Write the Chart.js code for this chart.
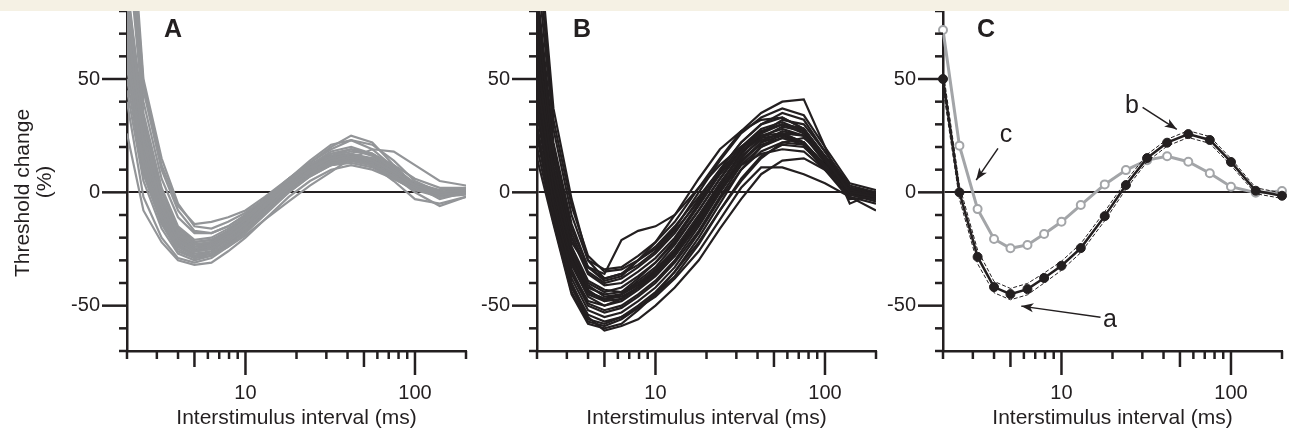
<!DOCTYPE html>
<html>
<head>
<meta charset="utf-8">
<script src="https://cdn.jsdelivr.net/npm/chart.js@4.4.1/dist/chart.umd.min.js"></script>
<style>
  html, body { margin: 0; padding: 0; background: #fff; }
  #page { position: relative; width: 1289px; height: 431px; overflow: hidden; background: #fff; }
  #strip { position: absolute; left: 0; top: 0; width: 1289px; height: 11px; background: #f5f1e4; z-index: 2; }
  canvas { position: absolute; top: 0; }
</style>
</head>
<body>
<div id="page">
  <div id="strip"></div>
  <canvas id="chartA" width="476" height="431" style="left:0px"></canvas>
  <canvas id="chartB" width="410" height="431" style="left:476px"></canvas>
  <canvas id="chartC" width="403" height="431" style="left:886px"></canvas>
</div>
<script>
// interstimulus intervals (ms) of the recovery cycle
const delays = [2, 2.5, 3.2, 4, 5, 6.3, 7.9, 10, 13, 18, 24, 32, 42, 56, 75, 100, 140, 200];

const xTickValues = [2, 3, 4, 5, 6, 7, 8, 9, 10, 20, 30, 40, 50, 60, 70, 80, 90, 100, 200];
const xLabelled = [10, 100];
const yTickValues = [-70, -60, -50, -40, -30, -20, -10, 0, 10, 20, 30, 40, 50, 60, 70, 80];
const yLabelled = [-50, 0, 50];

// panel A: individual recordings (grey)
const groupA = [
  [112, 35, 2, -15, -21, -20, -16, -11, -4, 5, 11, 15, 17, 14, 9, 3, 0, 1],
  [60, 12, -12, -24, -28, -27, -22, -16, -8, 2, 9, 14, 16, 14, 9, 3, -1, 0],
  [150, 50, 15, -5, -15, -16, -13, -9, -3, 5, 12, 18, 20, 17, 10, 3, -1, 1],
  [40, -2, -20, -29, -31, -29, -24, -18, -10, 0, 7, 12, 14, 12, 7, 2, -1, 0],
  [75, 22, -6, -21, -26, -25, -20, -14, -6, 3, 10, 15, 17, 15, 9, 3, 0, 1],
  [85, 28, -2, -18, -23, -22, -18, -12, -5, 4, 10, 14, 15, 12, 7, 2, -1, 0],
  [26, -8, -22, -30, -32, -31, -26, -20, -12, -2, 5, 10, 12, 10, 6, 1, -2, -1],
  [130, 45, 10, -8, -17, -18, -15, -10, -3, 6, 13, 19, 23, 21, 14, 5, 0, 2],
  [65, 15, -10, -23, -27, -26, -21, -15, -7, 2, 9, 13, 14, 12, 7, 2, -1, 0],
  [80, 25, -4, -19, -24, -22, -17, -12, -5, 4, 11, 16, 18, 17, 12, 6, 2, 2],
  [55, 10, -13, -25, -29, -27, -22, -16, -9, 0, 7, 12, 15, 14, 10, 4, 0, 1],
  [90, 32, 0, -16, -22, -21, -17, -12, -5, 4, 10, 14, 16, 13, 8, 2, -1, 0],
  [70, 18, -8, -22, -26, -25, -21, -15, -8, 2, 10, 16, 19, 17, 11, 3, -2, 0],
  [45, 5, -16, -27, -30, -28, -23, -17, -9, 1, 8, 13, 15, 13, 8, 2, -1, 0],
  [140, 48, 12, -6, -14, -13, -11, -8, -2, 6, 13, 20, 25, 22, 12, 3, -3, 0],
  [78, 24, -5, -20, -25, -24, -19, -13, -6, 3, 9, 13, 15, 13, 8, 2, 0, 1],
  [62, 14, -11, -23, -28, -26, -20, -13, -5, 5, 12, 17, 19, 17, 11, 4, 0, 1],
  [88, 30, 1, -17, -23, -23, -19, -14, -7, 2, 8, 12, 13, 11, 6, 1, -1, 0],
  [72, 20, -7, -21, -25, -23, -18, -12, -4, 5, 11, 15, 16, 14, 9, 3, 0, 1],
  [50, 8, -14, -26, -29, -28, -24, -19, -12, -4, 3, 9, 15, 19, 18, 12, 5, 3],
  [68, 17, -9, -22, -26, -24, -19, -13, -5, 4, 10, 14, 15, 12, 5, -3, -5, -2],
  [82, 26, -3, -19, -24, -23, -18, -12, -4, 5, 11, 15, 16, 13, 7, 0, -6, -2],
  [58, 11, -12, -24, -28, -27, -23, -17, -9, 1, 8, 13, 16, 15, 10, 4, 1, 2],
  [120, 40, 6, -11, -18, -18, -15, -10, -3, 6, 12, 16, 17, 14, 8, 2, -1, 0],
  [76, 22, -6, -20, -25, -24, -19, -13, -5, 5, 12, 17, 19, 16, 10, 3, 0, 1],
  [66, 16, -9, -22, -26, -25, -21, -15, -7, 3, 9, 14, 15, 13, 7, 2, -1, 0],
  [84, 27, -2, -18, -23, -22, -17, -11, -4, 6, 14, 21, 23, 19, 11, 3, -1, 1],
  [92, 33, 1, -16, -22, -21, -17, -12, -5, 3, 9, 13, 14, 12, 7, 2, 0, 1]
];

// panel B: individual recordings (black)
const groupB = [
  [120, 37, -3, -30, -38, -36, -30, -24, -15, -2, 10, 22, 30, 33, 28, 15, 0, -2],
  [15, -14, -45, -58, -60, -58, -52, -45, -35, -20, -5, 10, 20, 26, 25, 15, 1, -2],
  [40, -5, -35, -48, -50, -47, -42, -36, -28, -14, 0, 13, 22, 27, 25, 14, 0, -2],
  [60, 8, -25, -40, -44, -42, -37, -31, -22, -8, 6, 18, 26, 30, 28, 16, 1, -1],
  [30, -10, -40, -55, -61, -59, -56, -50, -42, -30, -16, -3, 8, 14, 15, 10, 0, -2],
  [80, 18, -18, -35, -40, -38, -33, -27, -18, -3, 10, 22, 30, 35, 32, 18, 2, -1],
  [50, 2, -30, -45, -48, -45, -40, -34, -25, -10, 4, 16, 23, 26, 22, 11, -1, -3],
  [25, -12, -42, -56, -58, -55, -50, -44, -35, -22, -8, 5, 15, 22, 24, 16, 2, -1],
  [70, 12, -22, -33, -36, -21, -17, -15, -10, 2, 12, 20, 25, 26, 22, 12, 0, -2],
  [45, -2, -32, -46, -50, -48, -43, -37, -28, -13, 2, 15, 24, 29, 27, 15, 1, -1],
  [100, 28, -10, -30, -34, -33, -28, -22, -13, 2, 15, 27, 35, 40, 41, 20, -5, 0],
  [35, -8, -38, -52, -55, -53, -48, -42, -33, -18, -3, 10, 18, 22, 21, 12, 0, -3],
  [55, 5, -27, -42, -45, -44, -38, -31, -21, -6, 8, 20, 28, 31, 27, 14, 1, -2],
  [65, 10, -24, -39, -43, -44, -40, -35, -27, -13, 1, 12, 17, 19, 18, 10, -1, -4],
  [20, -13, -44, -57, -59, -56, -51, -46, -38, -26, -12, 2, 11, 11, 8, 4, -2, -8],
  [90, 22, -14, -33, -38, -36, -32, -26, -17, -4, 8, 18, 24, 25, 22, 12, 0, -1],
  [45, 0, -31, -44, -47, -46, -42, -36, -27, -12, 3, 17, 26, 32, 30, 18, 3, 0],
  [75, 15, -20, -36, -41, -40, -35, -29, -20, -5, 9, 20, 27, 30, 26, 14, 0, -2],
  [38, -6, -36, -50, -53, -51, -46, -40, -31, -17, -2, 12, 20, 24, 22, 12, -1, -3],
  [58, 6, -26, -41, -46, -45, -41, -35, -26, -11, 4, 17, 25, 28, 25, 13, 0, -2],
  [110, 32, -6, -28, -35, -34, -30, -25, -16, 0, 14, 26, 33, 37, 34, 20, 4, 1],
  [28, -11, -41, -54, -57, -55, -51, -45, -37, -23, -8, 6, 16, 21, 20, 11, -2, -5],
  [48, 1, -29, -43, -48, -47, -42, -36, -27, -12, 2, 14, 21, 24, 21, 10, -3, -2],
  [85, 20, -16, -33, -39, -37, -30, -22, -10, 6, 19, 27, 32, 33, 28, 15, 2, 0],
  [42, -4, -34, -49, -52, -50, -45, -39, -30, -15, 0, 14, 22, 25, 22, 12, 0, -2],
  [52, 3, -28, -44, -47, -45, -39, -33, -23, -8, 6, 19, 27, 30, 28, 16, 2, -1]
];

// panel C: group means (black = B, grey = A), dashed = mean +/- SEM of B
const meanB = [50, 0, -28.5, -41.8, -44.9, -42.7, -37.8, -32.4, -24.6, -10.5, 3.2, 15.1, 21.9, 25.7, 23.1, 13.4, 0.7, -1.5];
const meanBUpper = [54, 3, -25.5, -39.3, -42.4, -40.2, -35.6, -30.4, -22.6, -8.5, 5, 16.7, 23.4, 27.2, 24.6, 14.9, 2, -0.3];
const meanBLower = [46, -3, -31.5, -44.3, -47.4, -45.2, -40, -34.4, -26.6, -12.5, 1.4, 13.5, 20.4, 24.2, 21.6, 11.9, -0.6, -2.7];
const meanA = [71.6, 20.6, -7.4, -20.6, -24.7, -23.2, -18.4, -13, -5.6, 3.5, 9.8, 14.2, 15.9, 13.5, 8.4, 2.5, -0.2, 0.6];

// arrows in panel C, in data units (ms, %)
const noteText = ['a', 'b', 'c'];
const noteAt = [[17.6, -59.4], [23.7, 34.8], [4.32, 22.3]];
const arrowFrom = [[17.0, -55.1], [30.1, 37.5], [4.22, 19.4]];
const arrowTo = [[5.79, -50.2], [47.9, 27.8], [3.14, 5.4]];

const ink = '#231f20';
const greyA = '#939598';
const greyC = '#a3a5a8';
const fontFamily = '"Liberation Sans", Arial, Helvetica, sans-serif';

Chart.defaults.font.family = fontFamily;
Chart.defaults.color = ink;

function toPoints(vals) {
    return vals.map((v, i) => ({ x: delays[i], y: v }));
}

function noPadding(s) {
    s.paddingTop = 0;
    s.paddingBottom = 0;
    s.paddingLeft = 0;
    s.paddingRight = 0;
}

function drawArrow(ctx, x0, y0, x1, y1) {
    ctx.beginPath();
    ctx.moveTo(x0, y0);
    ctx.lineTo(x1, y1);
    ctx.stroke();
    const ang = Math.atan2(y1 - y0, x1 - x0);
    const len = 13, spread = 0.36, notch = 9;
    ctx.beginPath();
    ctx.moveTo(x1, y1);
    ctx.lineTo(x1 - len * Math.cos(ang - spread), y1 - len * Math.sin(ang - spread));
    ctx.lineTo(x1 - notch * Math.cos(ang), y1 - notch * Math.sin(ang));
    ctx.lineTo(x1 - len * Math.cos(ang + spread), y1 - len * Math.sin(ang + spread));
    ctx.closePath();
    ctx.fill();
}

// tick marks, panel letter, y title and arrows
const panelDecor = {
    id: 'panelDecor',
    afterDraw(chart, args, opts) {
        const { ctx, chartArea: area } = chart;
        const x = chart.scales.x, y = chart.scales.y;
        ctx.save();
        ctx.strokeStyle = ink;
        ctx.fillStyle = ink;
        ctx.lineWidth = 2.5;
        xTickValues.forEach(v => {
            const px = x.getPixelForValue(v);
            const len = xLabelled.includes(v) ? 24 : (v === 5 || v === 50) ? 16 : 8;
            ctx.beginPath();
            ctx.moveTo(px, area.bottom);
            ctx.lineTo(px, area.bottom + len);
            ctx.stroke();
        });
        yTickValues.forEach(v => {
            const py = y.getPixelForValue(v);
            const len = yLabelled.includes(v) ? 25 : 8;
            ctx.beginPath();
            ctx.moveTo(area.left, py);
            ctx.lineTo(area.left - len, py);
            ctx.stroke();
        });

        ctx.font = 'bold 25px ' + fontFamily;
        ctx.textAlign = 'left';
        ctx.textBaseline = 'alphabetic';
        ctx.fillText(opts.letter, area.left + opts.letterDx, 37);

        if (opts.yTitle) {
            ctx.font = '21px ' + fontFamily;
            ctx.textAlign = 'center';
            ctx.textBaseline = 'middle';
            ctx.save();
            ctx.translate(23, 193);
            ctx.rotate(-Math.PI / 2);
            ctx.fillText('Threshold change', 0, 0);
            ctx.restore();
            ctx.save();
            ctx.translate(45, 182);
            ctx.rotate(-Math.PI / 2);
            ctx.fillText('(%)', 0, 0);
            ctx.restore();
        }

        if (opts.notes) {
            ctx.font = '25px ' + fontFamily;
            ctx.textAlign = 'left';
            ctx.textBaseline = 'alphabetic';
            ctx.lineWidth = 1.5;
            noteText.forEach((t, i) => {
                ctx.fillText(t, x.getPixelForValue(noteAt[i][0]), y.getPixelForValue(noteAt[i][1]));
                drawArrow(ctx,
                    x.getPixelForValue(arrowFrom[i][0]), y.getPixelForValue(arrowFrom[i][1]),
                    x.getPixelForValue(arrowTo[i][0]), y.getPixelForValue(arrowTo[i][1]));
            });
        }
        ctx.restore();
    }
};

function makeOptions(axisWidth, rightPad, decor) {
    return {
        responsive: false,
        animation: false,
        events: [],
        layout: { padding: { left: 0, right: rightPad, top: 11, bottom: 0 } },
        plugins: {
            legend: { display: false },
            tooltip: { enabled: false },
            panelDecor: decor
        },
        scales: {
            x: {
                type: 'logarithmic',
                min: 2,
                max: 200,
                afterBuildTicks: s => { s.ticks = xTickValues.map(v => ({ value: v })); },
                afterFit: s => { s.height = 80; noPadding(s); },
                grid: { display: false, drawTicks: false },
                border: { display: true, color: ink, width: 2.5 },
                ticks: {
                    autoSkip: false,
                    maxRotation: 0,
                    minRotation: 0,
                    padding: 30,
                    color: ink,
                    font: { size: 20 },
                    callback: v => xLabelled.includes(v) ? String(v) : ''
                },
                title: {
                    display: true,
                    text: 'Interstimulus interval (ms)',
                    color: ink,
                    font: { size: 21 },
                    padding: { top: 0, bottom: 0 }
                }
            },
            y: {
                min: -70,
                max: 80,
                afterBuildTicks: s => { s.ticks = yTickValues.map(v => ({ value: v })); },
                afterFit: s => { s.width = axisWidth; noPadding(s); },
                grid: {
                    drawTicks: false,
                    color: c => (c.tick && c.tick.value === 0) ? ink : 'rgba(0,0,0,0)',
                    lineWidth: 2
                },
                border: { display: true, color: ink, width: 2.5 },
                ticks: {
                    autoSkip: false,
                    padding: 27,
                    color: ink,
                    font: { size: 20 },
                    callback: v => yLabelled.includes(v) ? String(v) : ''
                }
            }
        }
    };
}

new Chart(document.getElementById('chartA'), {
    type: 'line',
    data: {
        datasets: groupA.map(vals => ({
            data: toPoints(vals),
            borderColor: greyA,
            borderWidth: 2.2,
            pointRadius: 0,
            tension: 0
        }))
    },
    options: makeOptions(127, 10, { letter: 'A', letterDx: 37, yTitle: true }),
    plugins: [panelDecor]
});

new Chart(document.getElementById('chartB'), {
    type: 'line',
    data: {
        datasets: groupB.map(vals => ({
            data: toPoints(vals),
            borderColor: ink,
            borderWidth: 2.2,
            pointRadius: 0,
            tension: 0
        }))
    },
    options: makeOptions(61, 10, { letter: 'B', letterDx: 36 }),
    plugins: [panelDecor]
});

new Chart(document.getElementById('chartC'), {
    type: 'line',
    data: {
        datasets: [
            {
                label: 'mean B',
                data: toPoints(meanB),
                borderColor: ink,
                borderWidth: 2.5,
                pointRadius: 4.5,
                pointBackgroundColor: ink,
                pointBorderColor: ink,
                pointBorderWidth: 1,
                tension: 0,
                clip: false
            },
            {
                label: 'mean B + SEM',
                data: toPoints(meanBUpper),
                borderColor: ink,
                borderWidth: 1,
                borderDash: [4, 2],
                pointRadius: 0,
                tension: 0,
                clip: false
            },
            {
                label: 'mean B - SEM',
                data: toPoints(meanBLower),
                borderColor: ink,
                borderWidth: 1,
                borderDash: [4, 2],
                pointRadius: 0,
                tension: 0,
                clip: false
            },
            {
                label: 'mean A',
                data: toPoints(meanA),
                borderColor: greyC,
                borderWidth: 3,
                pointRadius: 4,
                pointBackgroundColor: '#ffffff',
                pointBorderColor: greyC,
                pointBorderWidth: 2,
                tension: 0,
                clip: false
            }
        ]
    },
    options: makeOptions(57, 7, { letter: 'C', letterDx: 34, notes: true }),
    plugins: [panelDecor]
});
</script>
</body>
</html>
